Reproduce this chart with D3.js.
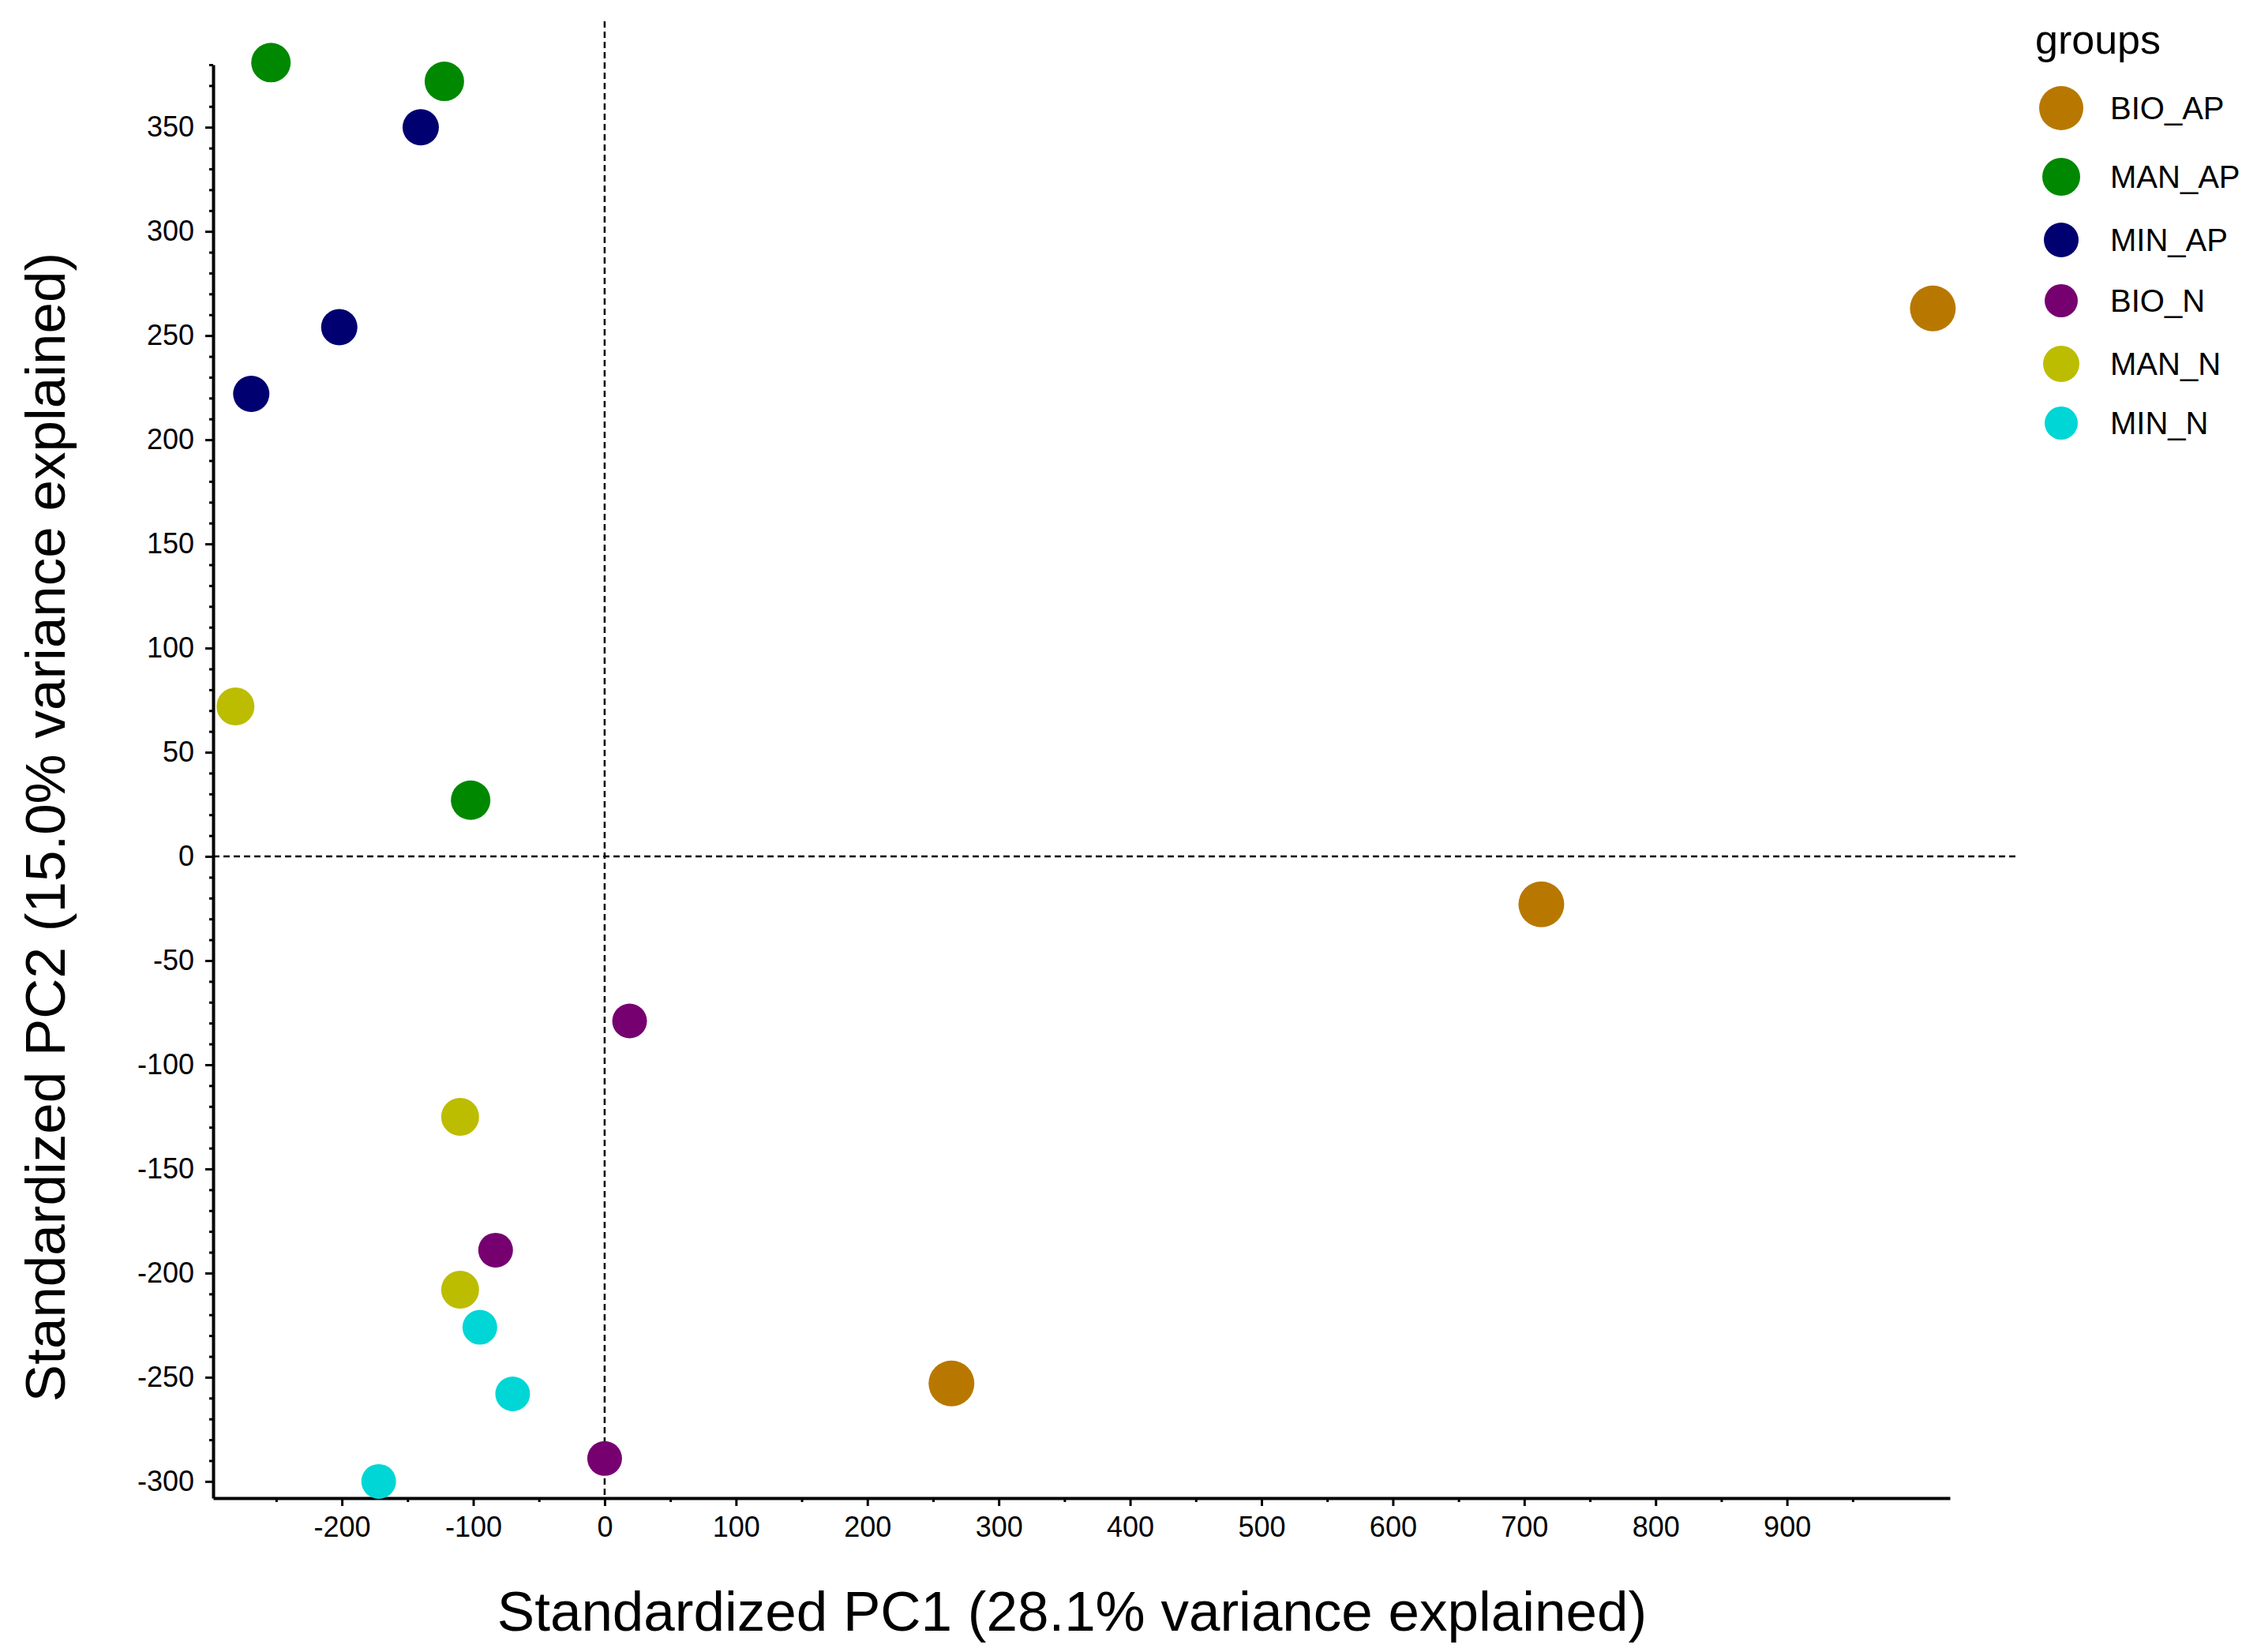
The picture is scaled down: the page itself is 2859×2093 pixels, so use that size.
<!DOCTYPE html>
<html>
<head>
<meta charset="utf-8">
<script src="https://cdn.jsdelivr.net/npm/d3@7"></script>
<style>
  body { margin: 0; background: #fff; }
  svg { display: block; }
  .tick text { font-family: "Liberation Sans Narrow", "Arial Narrow", Arial, sans-serif; }
</style>
</head>
<body>
<script>
const groups = ["BIO_AP", "MAN_AP", "MIN_AP", "BIO_N", "MAN_N", "MIN_N"];
const groupColors = ["#b87800", "#008800", "#000070", "#760070", "#bcbc00", "#00d6d6"];
const groupRadius = [29, 25, 23, 22, 24, 22];

// one entry per sample: group, PC1, PC2
const sampleGroup = ["BIO_AP", "BIO_AP", "BIO_AP",
                     "MAN_AP", "MAN_AP", "MAN_AP",
                     "MIN_AP", "MIN_AP", "MIN_AP",
                     "BIO_N", "BIO_N", "BIO_N",
                     "MAN_N", "MAN_N", "MAN_N",
                     "MIN_N", "MIN_N", "MIN_N"];
const pc1 = [1011, 713, 264,
             -254, -122, -102,
             -140, -202, -269,
             19, -83, 0,
             -281, -110, -110,
             -95, -70, -172];
const pc2 = [263, -23, -253,
             381, 372, 27,
             350, 254, 222,
             -79, -189, -289,
             72, -125, -208,
             -226, -258, -300];

const xTicks = [-200, -100, 0, 100, 200, 300, 400, 500, 600, 700, 800, 900];
const yTicks = [-300, -250, -200, -150, -100, -50, 0, 50, 100, 150, 200, 250, 300, 350];

const W = 2859, H = 2093;
const mLeft = 270, mRight = 2470, mTop = 82, mBottom = 1898;

const svg = d3.select("body").append("svg").attr("width", W).attr("height", H);

const x = d3.scaleLinear().domain([-298, 1024]).range([mLeft, mRight]);
const y = d3.scaleLinear().domain([-308, 380]).range([mBottom, mTop]);
const color = d3.scaleOrdinal().domain(groups).range(groupColors);
const radius = d3.scaleOrdinal().domain(groups).range(groupRadius);

// minor ticks
svg.append("g")
  .attr("transform", `translate(0,${mBottom})`)
  .call(d3.axisBottom(x).tickValues(d3.range(-250, 1001, 100)).tickSize(5).tickFormat(""))
  .call(g => g.select(".domain").remove())
  .selectAll("line").attr("stroke-width", 3);
svg.append("g")
  .attr("transform", `translate(${mLeft},0)`)
  .call(d3.axisLeft(y).tickValues(d3.range(-300, 381, 10).filter(v => v % 50 !== 0)).tickSize(5).tickFormat(""))
  .call(g => g.select(".domain").remove())
  .selectAll("line").attr("stroke-width", 3);

// main axes, plain hyphen for negatives like the original
const fmt = d => String(d);
const xAxis = svg.append("g")
  .attr("transform", `translate(0,${mBottom})`)
  .call(d3.axisBottom(x).tickValues(xTicks).tickFormat(fmt).tickSize(10).tickSizeOuter(0).tickPadding(13));
const yAxis = svg.append("g")
  .attr("transform", `translate(${mLeft},0)`)
  .call(d3.axisLeft(y).tickValues(yTicks).tickFormat(fmt).tickSize(10).tickSizeOuter(0).tickPadding(14));

[xAxis, yAxis].forEach(a => {
  a.select(".domain").attr("stroke-width", 4);
  a.selectAll(".tick line").attr("stroke-width", 3);
  a.selectAll(".tick text").attr("font-size", 36).attr("fill", "#000");
});

// reference lines at zero
svg.append("line")
  .attr("x1", x(0)).attr("x2", x(0))
  .attr("y1", 27).attr("y2", mBottom)
  .attr("stroke", "#000").attr("stroke-width", 2.5).attr("stroke-dasharray", "8,5");
svg.append("line")
  .attr("x1", mLeft).attr("x2", 2556)
  .attr("y1", y(0)).attr("y2", y(0))
  .attr("stroke", "#000").attr("stroke-width", 2.5).attr("stroke-dasharray", "8,5");

// points
const samples = sampleGroup.map((g, i) => ({ group: g, pc1: pc1[i], pc2: pc2[i] }));
svg.append("g")
  .selectAll("circle")
  .data(samples)
  .join("circle")
  .attr("cx", d => x(d.pc1))
  .attr("cy", d => y(d.pc2))
  .attr("r", d => radius(d.group))
  .attr("fill", d => color(d.group));

// axis titles
svg.append("text")
  .attr("x", 1358).attr("y", 2066)
  .attr("text-anchor", "middle")
  .attr("font-family", "Liberation Sans, Arial, sans-serif")
  .attr("font-size", 71)
  .text("Standardized PC1 (28.1% variance explained)");
svg.append("text")
  .attr("transform", "translate(82,1048) rotate(-90)")
  .attr("text-anchor", "middle")
  .attr("font-family", "Liberation Sans, Arial, sans-serif")
  .attr("font-size", 71)
  .text("Standardized PC2 (15.0% variance explained)");

// legend
const legend = svg.append("g").attr("font-family", "Liberation Sans, Arial, sans-serif");
legend.append("text")
  .attr("x", 2578).attr("y", 68)
  .attr("font-size", 52)
  .text("groups");
const legendY = [137, 224, 304, 381, 461, 536];
const item = legend.selectAll("g.item")
  .data(groups)
  .join("g")
  .attr("class", "item")
  .attr("transform", (d, i) => `translate(2611,${legendY[i]})`);
item.append("circle")
  .attr("r", d => radius(d) - 1)
  .attr("fill", d => color(d));
item.append("text")
  .attr("x", 62).attr("dy", "0.36em")
  .attr("font-size", 40)
  .text(d => d);
</script>
</body>
</html>
